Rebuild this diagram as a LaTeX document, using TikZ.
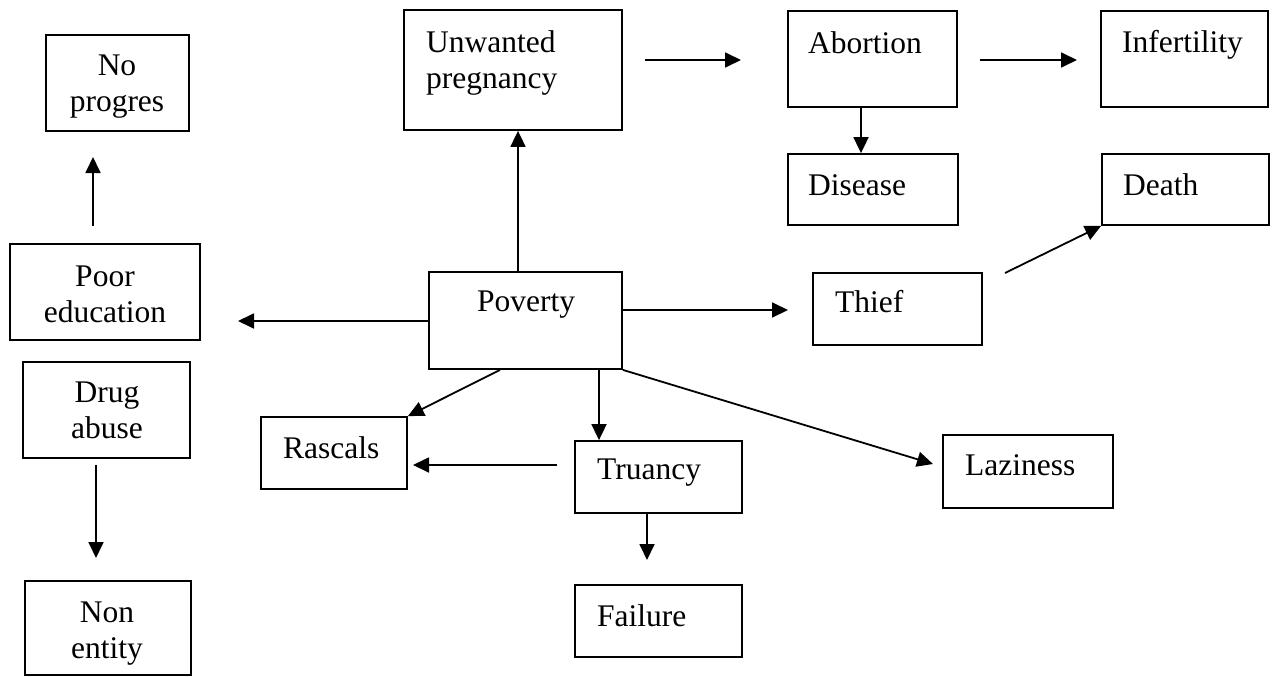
\documentclass[tikz,border=0pt]{standalone}
\usepackage{fontspec}
\setmainfont{Liberation Serif}
\usetikzlibrary{arrows.meta}
\tikzset{
  box/.style={draw=black, line width=1.8pt, rectangle, inner sep=0pt},
  lbl/.style={inner sep=0pt, font=\fontsize{31.5}{36}\selectfont, text=black},
  arr/.style={line width=1.8pt, -{Triangle[length=16pt,width=15pt]}}
}
\begin{document}
\begin{tikzpicture}[x=1pt,y=-1pt]
\useasboundingbox[fill=white] (0,0) rectangle (1274,677);
% boxes
\node[box, minimum width=143, minimum height=96] (noprog) at (117.5,83) {};
\node[box, minimum width=190, minimum height=96] (poored) at (105,292) {};
\node[box, minimum width=167, minimum height=96] (drug) at (106.5,410) {};
\node[box, minimum width=166, minimum height=94] (nonent) at (108,628) {};
\node[box, minimum width=218, minimum height=120] (unw) at (513,70) {};
\node[box, minimum width=169, minimum height=96] (abort) at (872.5,59) {};
\node[box, minimum width=167, minimum height=96] (infert) at (1184.5,59) {};
\node[box, minimum width=170, minimum height=71] (disease) at (873,189.5) {};
\node[box, minimum width=167, minimum height=71] (death) at (1185.5,189.5) {};
\node[box, minimum width=193, minimum height=97] (pov) at (525.5,320.5) {};
\node[box, minimum width=169, minimum height=72] (thief) at (897.5,309) {};
\node[box, minimum width=146, minimum height=72] (rascals) at (334,453) {};
\node[box, minimum width=167, minimum height=72] (truancy) at (658.5,477) {};
\node[box, minimum width=167, minimum height=72] (failure) at (658.5,621) {};
\node[box, minimum width=170, minimum height=73] (laziness) at (1028,471.5) {};
% texts
\node[lbl, anchor=north, align=center] (noprogt) at (117,55) {No\\progres};
\node[lbl, anchor=north, align=center] (pooredt) at (105,266) {Poor\\education};
\node[lbl, anchor=north, align=center] (drugt) at (107,382) {Drug\\abuse};
\node[lbl, anchor=north, align=center] (nonentt) at (107,602) {Non\\entity};
\node[lbl, anchor=north west, align=left] (unwt) at (426,30) {Unwanted\\pregnancy};
\node[lbl, anchor=north west] (abortt) at (808,31) {Abortion};
\node[lbl, anchor=north west] (infertt) at (1122,30) {Infertility};
\node[lbl, anchor=north west] (diseaset) at (808,174) {Disease};
\node[lbl, anchor=north west] (deatht) at (1123,173) {Death};
\node[lbl, anchor=north west] (povt) at (477,291) {Poverty};
\node[lbl, anchor=north west] (thieft) at (835,290) {Thief};
\node[lbl, anchor=north west] (rascalst) at (283,436) {Rascals};
\node[lbl, anchor=north west] (truancyt) at (597,459) {Truancy};
\node[lbl, anchor=north west] (failuret) at (597,604) {Failure};
\node[lbl, anchor=north west] (lazinesst) at (965,454) {Laziness};
% free ends
\coordinate (pe1) at (93,226);
\coordinate (pe2) at (93,157);
\coordinate (pp) at (238,321);
\coordinate (ux) at (518,0);
\coordinate (ua1) at (645,60);
\coordinate (ua2) at (741,60);
\coordinate (ai1) at (980,60);
\coordinate (ai2) at (1077,60);
\coordinate (adx) at (861,0);
\coordinate (td) at (1005,273);
\coordinate (pt) at (788,310);
\coordinate (prx) at (500,0);
\coordinate (ptx) at (599,0);
\coordinate (tr1) at (557,465);
\coordinate (tr2) at (413,465);
\coordinate (tfx) at (647,0);
\coordinate (tf) at (647,560);
\coordinate (pl) at (933,464);
\coordinate (dn1) at (96,465);
\coordinate (dn2) at (96,558);
% connectors
\draw[arr] (pe1) -- (pe2);
\draw[arr] (pov.west |- pp) -- (pp);
\draw[arr] (pov.north -| ux) -- (unw.south -| ux);
\draw[arr] (ua1) -- (ua2);
\draw[arr] (ai1) -- (ai2);
\draw[arr] (abort.south -| adx) -- (disease.north -| adx);
\draw[arr] (td) -- (death.south west);
\draw[arr] (pov.east |- pt) -- (pt);
\draw[arr] (pov.south -| prx) -- (rascals.north east);
\draw[arr] (pov.south -| ptx) -- (truancy.north -| ptx);
\draw[arr] (tr1) -- (tr2);
\draw[arr] (truancy.south -| tfx) -- (tf);
\draw[arr] (pov.south east) -- (pl);
\draw[arr] (dn1) -- (dn2);
\end{tikzpicture}
\end{document}
